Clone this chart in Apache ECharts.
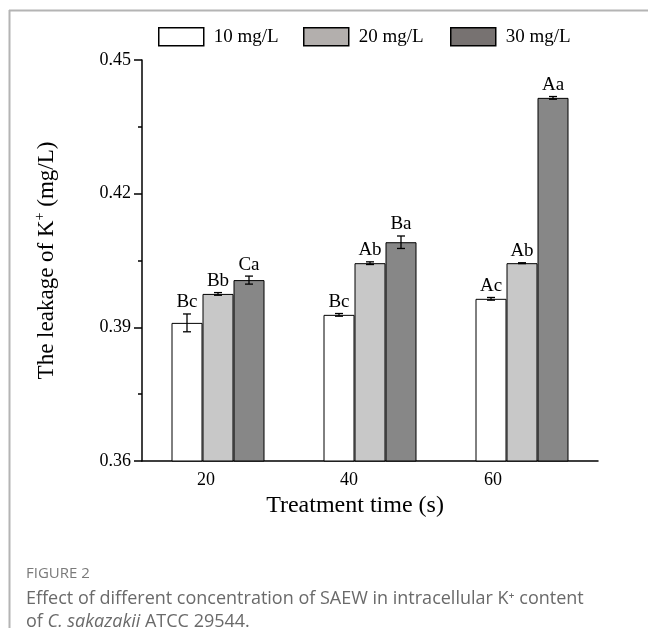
<!DOCTYPE html>
<html>
<head>
<meta charset="utf-8">
<script src="https://cdn.jsdelivr.net/npm/echarts@6/dist/echarts.min.js"></script>
<style>html,body{margin:0;padding:0;background:#fff}#c{width:648px;height:628px}</style>
</head>
<body>
<div id="c"></div>
<script>
var categories = ['20', '40', '60'];
var seriesNames = ['10 mg/L', '20 mg/L', '30 mg/L'];
var values10 = [0.3910, 0.3928, 0.3964];
var values20 = [0.3975, 0.4044, 0.4044];
var values30 = [0.4006, 0.4091, 0.4415];
var errors10 = [0.0020, 0.0003, 0.0003];
var errors20 = [0.0003, 0.0003, 0.0001];
var errors30 = [0.0009, 0.0014, 0.0003];
var letters10 = ['Bc', 'Bc', 'Ac'];
var letters20 = ['Bb', 'Ab', 'Ab'];
var letters30 = ['Ca', 'Ba', 'Aa'];
var yTicks = ['0.36', '0.39', '0.42', '0.45'];

var SERIF = '"Liberation Serif", "Times New Roman", serif';
var BW = 31;
var barColors = ['#ffffff', '#c8c8c8', '#878787'];
var legendColors = ['#ffffff', '#b3afad', '#777271'];

function errSeries(si, vals, errs, labs) {
  return {
    type: 'custom',
    z: 5,
    silent: true,
    data: vals.map(function (v, i) { return [i, v, errs[i]]; }),
    renderItem: function (params, api) {
      var i = api.value(0), v = api.value(1), e = api.value(2);
      var lab = labs[params.dataIndex];
      var c = api.coord([i, v]);
      var x = c[0] + (si - 1) * BW;
      var top = api.coord([i, v + e])[1];
      var bot = api.coord([i, v - e])[1];
      var cap = 4;
      var ls = { stroke: '#000', lineWidth: 1.3 };
      return {
        type: 'group',
        children: [
          { type: 'line', shape: { x1: x, y1: top, x2: x, y2: bot }, style: ls },
          { type: 'line', shape: { x1: x - cap, y1: top, x2: x + cap, y2: top }, style: ls },
          { type: 'line', shape: { x1: x - cap, y1: bot, x2: x + cap, y2: bot }, style: ls },
          { type: 'text', x: x, y: top - 2, style: { text: lab, align: 'center', verticalAlign: 'bottom', fontSize: 19, fontFamily: SERIF, fill: '#000' } }
        ]
      };
    }
  };
}

function barSeries(si, vals) {
  return {
    name: seriesNames[si],
    type: 'bar',
    barWidth: BW,
    barGap: '0%',
    data: vals,
    itemStyle: { color: barColors[si], borderColor: '#000', borderWidth: 1 },
    emphasis: { disabled: true }
  };
}

function legendAt(si, left) {
  return {
    left: left, top: 27,
    padding: 0,
    itemWidth: 45, itemHeight: 18,
    icon: 'rect',
    selectedMode: false,
    data: [{ name: seriesNames[si], itemStyle: { color: legendColors[si], borderColor: '#000', borderWidth: 1.5 } }],
    textStyle: { fontFamily: SERIF, fontSize: 19, color: '#000', padding: [0, 0, 0, 5] }
  };
}

var xLab = { fontFamily: SERIF, fontSize: 18, color: '#000' };
var chart = echarts.init(document.getElementById('c'), null, { renderer: 'canvas' });
chart.setOption({
  animation: false,
  backgroundColor: '#fff',
  grid: { left: 142, top: 60, right: 50, bottom: 167, containLabel: false },
  legend: [legendAt(0, 158), legendAt(1, 303), legendAt(2, 450)],
  xAxis: [{
    type: 'category',
    data: categories,
    boundaryGap: true,
    name: 'Treatment time (s)',
    nameLocation: 'middle',
    nameGap: 33,
    nameTextStyle: { fontFamily: SERIF, fontSize: 24, color: '#000', padding: [0, 30, 0, 0] },
    axisLine: { lineStyle: { color: '#000', width: 1.5 } },
    axisTick: { alignWithLabel: true, length: 8, lineStyle: { color: '#000', width: 1.5 } },
    axisLabel: {
      margin: 10,
      formatter: function (v, idx) { return '{p' + idx + '|' + v + '}'; },
      rich: {
        p0: Object.assign({ padding: [0, 24, 0, 0] }, xLab),
        p1: Object.assign({ padding: [0, 42, 0, 0] }, xLab),
        p2: Object.assign({ padding: [0, 58, 0, 0] }, xLab)
      }
    },
    splitLine: { show: false }
  }, {
    type: 'category',
    data: categories,
    position: 'bottom',
    boundaryGap: true,
    axisLine: { show: false },
    axisTick: { alignWithLabel: false, length: 4, lineStyle: { color: '#000', width: 1.5 } },
    axisLabel: { show: false },
    splitLine: { show: false }
  }],
  yAxis: {
    type: 'value',
    min: 0.36, max: 0.45, interval: 0.03,
    name: '{a|The leakage of K}{s|+}{a| (mg/L)}',
    nameLocation: 'middle',
    nameGap: 82,
    nameRotate: 90,
    nameTextStyle: {
      rich: {
        a: { fontFamily: SERIF, fontSize: 23, color: '#000', lineHeight: 27 },
        s: { fontFamily: SERIF, fontSize: 14, color: '#000', lineHeight: 27, verticalAlign: 'top' }
      }
    },
    axisLine: { show: true, lineStyle: { color: '#000', width: 1.5 } },
    axisTick: { show: true, length: 8, lineStyle: { color: '#000', width: 1.5 } },
    minorTick: { show: true, splitNumber: 2, length: 4, lineStyle: { color: '#000', width: 1.5 } },
    axisLabel: {
      fontFamily: SERIF, fontSize: 18, color: '#000', margin: 11,
      formatter: function (v) {
        var s = v.toFixed(2);
        return yTicks.indexOf(s) >= 0 ? s : '';
      }
    },
    splitLine: { show: false }
  },
  series: [
    barSeries(0, values10), barSeries(1, values20), barSeries(2, values30),
    errSeries(0, values10, errors10, letters10),
    errSeries(1, values20, errors20, letters20),
    errSeries(2, values30, errors30, letters30)
  ],
  graphic: [
    { type: 'line', shape: { x1: 9, y1: 10.5, x2: 648, y2: 10.5 }, style: { stroke: '#b4b4b4', lineWidth: 2 } },
    { type: 'line', shape: { x1: 9.5, y1: 10, x2: 9.5, y2: 628 }, style: { stroke: '#b4b4b4', lineWidth: 2 } },
    { type: 'text', left: 26, top: 566, style: { text: 'FIGURE 2', fontFamily: '"Open Sans", sans-serif', fontSize: 15, fill: '#7a7a7a' } },
    { type: 'text', left: 26, top: 590, style: { text: 'Effect of different concentration of SAEW in intracellular K\u207A content', fontFamily: '"Open Sans", sans-serif', fontSize: 18, fill: '#6a6a6a' } },
    { type: 'text', left: 26, top: 613, style: {
      text: '{n|of }{i|C. sakazakii}{n| ATCC 29544.}',
      rich: {
        n: { fontFamily: '"Open Sans", sans-serif', fontSize: 18, fill: '#6a6a6a', color: '#6a6a6a' },
        i: { fontFamily: '"Open Sans", sans-serif', fontSize: 18, fontStyle: 'italic', fill: '#6a6a6a', color: '#6a6a6a' }
      }
    } }
  ]
});
</script>
</body>
</html>
